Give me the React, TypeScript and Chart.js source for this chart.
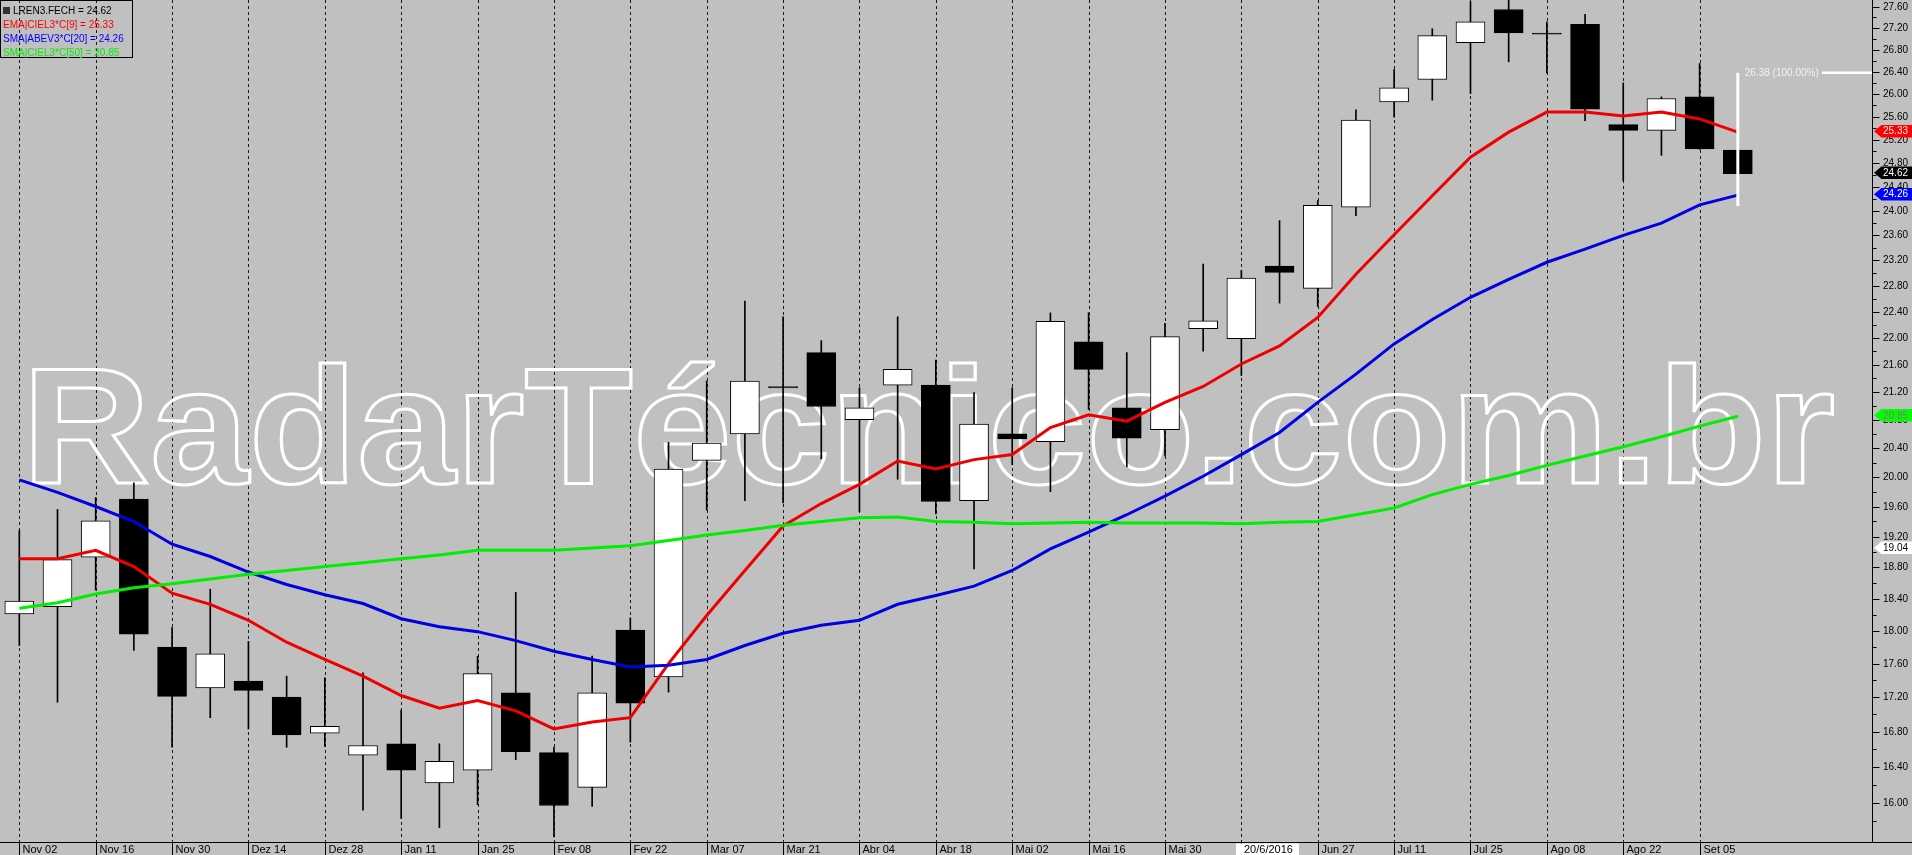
import { useEffect, useRef } from "react";
import { Chart, registerables } from "chart.js";

Chart.register(...registerables);

// Weekly candles LREN3 (Nov 02 2015 .. Set 12 2016)
const opens = [18.21, 18.30, 18.93, 19.70, 17.80, 17.31, 17.39, 17.20, 16.78, 16.53, 16.66, 16.22, 16.36, 17.25, 16.56, 16.17, 18.01, 17.44, 20.23, 20.60, 21.28, 21.78, 20.80, 21.30, 21.30, 19.68, 20.60, 20.49, 21.94, 20.97, 20.66, 22.14, 21.99, 23.11, 22.76, 24.06, 25.86, 26.26, 26.93, 27.55, 27.11, 27.27, 25.46, 25.36, 25.95, 25.02];
const highs = [19.28, 19.56, 19.72, 19.92, 18.04, 18.52, 17.87, 17.45, 17.43, 17.49, 17.05, 16.66, 17.69, 18.48, 16.62, 17.69, 18.16, 20.48, 21.36, 22.56, 22.32, 21.96, 21.26, 22.32, 21.67, 21.19, 21.26, 22.38, 22.38, 21.78, 22.22, 23.14, 23.04, 23.84, 24.17, 25.72, 26.44, 27.19, 27.70, 27.75, 27.32, 27.46, 26.20, 25.95, 26.55, 25.02];
const lows = [17.82, 17.14, 18.51, 17.76, 16.62, 16.96, 16.83, 16.62, 16.63, 15.92, 15.83, 15.73, 15.98, 16.48, 15.63, 15.96, 16.68, 17.26, 19.55, 19.68, 19.65, 20.25, 19.53, 19.97, 19.50, 18.78, 20.17, 19.80, 20.95, 20.14, 20.29, 21.80, 21.44, 22.53, 22.48, 23.92, 25.59, 25.89, 26.01, 26.58, 26.38, 25.53, 24.50, 24.93, 25.03, 24.62];
const closes = [18.37, 18.90, 19.41, 17.96, 17.21, 17.72, 17.28, 16.76, 16.86, 16.64, 16.36, 16.46, 17.48, 16.57, 15.97, 17.25, 17.13, 20.11, 20.47, 21.36, 21.26, 20.99, 20.97, 21.53, 19.67, 20.74, 20.53, 22.25, 21.53, 20.54, 22.02, 22.26, 22.92, 23.01, 24.09, 25.54, 26.11, 27.06, 27.32, 27.11, 27.09, 25.73, 25.36, 25.92, 25.04, 24.62];

// Indicator lines
const emaCiel9 = [18.91, 18.91, 19.02, 18.81, 18.47, 18.33, 18.13, 17.86, 17.65, 17.45, 17.22, 17.07, 17.16, 17.04, 16.83, 16.91, 16.96, 17.60, 18.19, 18.76, 19.34, 19.64, 19.90, 20.22, 20.11, 20.24, 20.31, 20.69, 20.87, 20.78, 21.05, 21.28, 21.61, 21.88, 22.31, 22.98, 23.61, 24.25, 24.90, 25.33, 25.68, 25.68, 25.61, 25.68, 25.56, 25.33];
const smaAbev20 = [19.96, 19.79, 19.60, 19.40, 19.10, 18.94, 18.74, 18.58, 18.45, 18.34, 18.15, 18.05, 17.99, 17.88, 17.75, 17.65, 17.56, 17.58, 17.65, 17.82, 17.97, 18.07, 18.13, 18.33, 18.44, 18.56, 18.76, 19.04, 19.26, 19.49, 19.74, 20.01, 20.31, 20.62, 21.05, 21.46, 21.91, 22.28, 22.62, 22.90, 23.17, 23.38, 23.60, 23.80, 24.10, 24.26];
const smaCiel50 = [18.28, 18.35, 18.46, 18.54, 18.59, 18.65, 18.71, 18.76, 18.81, 18.86, 18.91, 18.96, 19.02, 19.02, 19.02, 19.05, 19.08, 19.15, 19.22, 19.28, 19.35, 19.40, 19.45, 19.46, 19.40, 19.39, 19.37, 19.38, 19.39, 19.38, 19.38, 19.38, 19.37, 19.39, 19.40, 19.49, 19.58, 19.76, 19.90, 20.02, 20.16, 20.29, 20.42, 20.56, 20.71, 20.85];

// X axis labels (every two weeks)
const dateLabels = ["Nov 02", "Nov 16", "Nov 30", "Dez 14", "Dez 28", "Jan 11", "Jan 25", "Fev 08", "Fev 22", "Mar 07", "Mar 21", "Abr 04", "Abr 18", "Mai 02", "Mai 16", "Mai 30", "Jun 13", "Jun 27", "Jul 11", "Jul 25", "Ago 08", "Ago 22", "Set 05"];
const dateLabelIndex = [0, 2, 4, 6, 8, 10, 12, 14, 16, 18, 20, 22, 24, 26, 28, 30, 32, 34, 36, 38, 40, 42, 44];
const cursorDateLabel = "20/6/2016";
const cursorDateIndex = 32;

// Y axis ticks
const yMajorTicks = [16.0, 16.4, 16.8, 17.2, 17.6, 18.0, 18.4, 18.8, 19.2, 19.6, 20.0, 20.4, 20.8, 21.2, 21.6, 22.0, 22.4, 22.8, 23.2, 23.6, 24.0, 24.4, 24.8, 25.2, 25.6, 26.0, 26.4, 26.8, 27.2, 27.6];
const yMajorLabels = ["16.00", "16.40", "16.80", "17.20", "17.60", "18.00", "18.40", "18.80", "19.20", "19.60", "20.00", "20.40", "20.80", "21.20", "21.60", "22.00", "22.40", "22.80", "23.20", "23.60", "24.00", "24.40", "24.80", "25.20", "25.60", "26.00", "26.40", "26.80", "27.20", "27.60"];
const yMinorTicks = [15.8, 16.2, 16.6, 17.0, 17.4, 17.8, 18.2, 18.6, 19.0, 19.4, 19.8, 20.2, 20.6, 21.0, 21.4, 21.8, 22.2, 22.6, 23.0, 23.4, 23.8, 24.2, 24.6, 25.0, 25.4, 25.8, 26.2, 26.6, 27.0, 27.4];

// Price tags on the right axis
const tagValues = [25.33, 24.62, 24.26, 20.85, 19.04];
const tagTexts = ["25.33", "24.62", "24.26", "20.85", "19.04"];
const tagBg = ["#FF0000", "#000000", "#0000FF", "#00FF00", "#FFFFFF"];
const tagFg = ["#FFE8E8", "#FFFFFF", "#FFFFFF", "#7A7A7A", "#000000"];

// Legend
const legendTexts = ["LREN3.FECH = 24.62", "EMA|CIEL3*C[9] = 25.33", "SMA|ABEV3*C[20] = 24.26", "SMA|CIEL3*C[50] = 20.85"];
const legendColors = ["#000000", "#FF0000", "#0000FF", "#00EE00"];

// Measure annotation
const measureIndex = 45;
const measureTop = 26.38;
const measureBottom = 24.08;
const measureText = "26.38 (100.00%)";

const watermark = "RadarTécnico.com.br";

const FONT = '"Liberation Sans", Arial, sans-serif';

const chartPlugin = {
  id: "radarDecor",
  beforeDraw(chart: any) {
    const ctx = chart.ctx;
    ctx.save();
    ctx.fillStyle = "#C0C0C0";
    ctx.fillRect(0, 0, chart.width, chart.height);
    ctx.restore();
  },
  beforeDatasetsDraw(chart: any) {
    const { ctx, chartArea } = chart;
    const x = chart.scales.x;
    ctx.save();
    // dashed vertical grid
    ctx.strokeStyle = "#1a1a1a";
    ctx.lineWidth = 1;
    ctx.setLineDash([3, 3]);
    for (const i of dateLabelIndex) {
      const px = Math.round(x.getPixelForValue(i)) + 0.5;
      ctx.beginPath();
      ctx.moveTo(px, chartArea.top);
      ctx.lineTo(px, chartArea.bottom);
      ctx.stroke();
    }
    ctx.setLineDash([]);
    // watermark
    ctx.font = "bold 165px " + FONT;
    const w = ctx.measureText(watermark).width;
    ctx.translate(22, 483);
    ctx.scale(1813 / w, 1);
    ctx.lineWidth = 3;
    ctx.lineJoin = "miter";
    ctx.strokeStyle = "#FFFFFF";
    ctx.strokeText(watermark, 0, 0);
    ctx.restore();
  },
  afterDatasetsDraw(chart: any) {
    const { ctx } = chart;
    const x = chart.scales.x;
    const y = chart.scales.y;
    const W = chart.width;
    const H = chart.height;
    const axisX = 1872.5;
    const axisY = 842.5;
    ctx.save();

    // measure annotation
    const ax = x.getPixelForValue(measureIndex);
    const myTop = y.getPixelForValue(measureTop);
    const myBot = y.getPixelForValue(measureBottom);
    ctx.strokeStyle = "#FFFFFF";
    ctx.lineWidth = 3;
    ctx.beginPath();
    ctx.moveTo(ax, myTop);
    ctx.lineTo(ax, myBot);
    ctx.stroke();
    ctx.fillStyle = "#F2F2F2";
    ctx.font = "10px " + FONT;
    ctx.textBaseline = "middle";
    ctx.textAlign = "left";
    ctx.fillText(measureText, ax + 7, myTop);
    const tw = ctx.measureText(measureText).width;
    ctx.lineWidth = 2.5;
    ctx.beginPath();
    ctx.moveTo(ax + 7 + tw + 3, myTop);
    ctx.lineTo(1872, myTop);
    ctx.stroke();

    // axis lines
    ctx.strokeStyle = "#000000";
    ctx.lineWidth = 1;
    ctx.beginPath();
    ctx.moveTo(0, axisY);
    ctx.lineTo(W, axisY);
    ctx.stroke();
    ctx.beginPath();
    ctx.moveTo(axisX, 0);
    ctx.lineTo(axisX, axisY);
    ctx.stroke();

    // y ticks
    for (const v of yMinorTicks) {
      const py = Math.round(y.getPixelForValue(v)) + 0.5;
      if (py > axisY - 1) continue;
      ctx.beginPath();
      ctx.moveTo(axisX, py);
      ctx.lineTo(axisX + 4, py);
      ctx.stroke();
    }
    ctx.fillStyle = "#000000";
    ctx.font = "10px " + FONT;
    ctx.textBaseline = "middle";
    yMajorTicks.forEach((v, k) => {
      const py = Math.round(y.getPixelForValue(v)) + 0.5;
      ctx.beginPath();
      ctx.moveTo(axisX, py);
      ctx.lineTo(axisX + 7, py);
      ctx.stroke();
      ctx.fillText(yMajorLabels[k], 1883, py);
    });

    // x labels
    ctx.font = "11px " + FONT;
    dateLabelIndex.forEach((i, k) => {
      const px = Math.round(x.getPixelForValue(i)) + 0.5;
      ctx.beginPath();
      ctx.moveTo(px, axisY);
      ctx.lineTo(px, H);
      ctx.stroke();
      ctx.fillText(dateLabels[k], px + 3, 849.5);
    });
    // cursor date box
    const cx = Math.round(x.getPixelForValue(cursorDateIndex)) - 5;
    ctx.fillStyle = "#FFFFFF";
    ctx.fillRect(cx, axisY + 1, 63, H - axisY);
    ctx.fillStyle = "#000000";
    ctx.fillText(cursorDateLabel, cx + 8, 849.5);

    // price tags
    ctx.font = "10px " + FONT;
    tagValues.forEach((v, k) => {
      const py = y.getPixelForValue(v) - 1;
      const h = 12.5;
      ctx.fillStyle = tagBg[k];
      ctx.beginPath();
      ctx.moveTo(1874, py);
      ctx.lineTo(1881.5, py - h / 2);
      ctx.lineTo(W, py - h / 2);
      ctx.lineTo(W, py + h / 2);
      ctx.lineTo(1881.5, py + h / 2);
      ctx.closePath();
      ctx.fill();
      ctx.fillStyle = tagFg[k];
      ctx.fillText(tagTexts[k], 1883, py + 0.5);
    });

    // legend
    ctx.strokeStyle = "#000000";
    ctx.lineWidth = 1;
    ctx.strokeRect(0.5, 0.5, 132, 57);
    ctx.fillStyle = "#333333";
    ctx.fillRect(3, 7, 7, 7);
    ctx.font = "10px " + FONT;
    legendTexts.forEach((t, k) => {
      ctx.fillStyle = legendColors[k];
      ctx.fillText(t, k === 0 ? 13 : 3, 11 + k * 14);
    });

    ctx.restore();
  },
};

export default function App() {
  const canvasRef = useRef<HTMLCanvasElement | null>(null);

  useEffect(() => {
    const canvas = canvasRef.current;
    if (!canvas) return;
    const idx = opens.map((_, i) => i);
    const chart = new Chart(canvas, {
      type: "bar",
      data: {
        datasets: [
          {
            type: "line",
            label: "SMA|CIEL3*C[50]",
            data: idx.map((i) => ({ x: i, y: smaCiel50[i] })),
            borderColor: "#00EE00",
            borderWidth: 3,
            pointRadius: 0,
            tension: 0,
            order: 0,
          } as any,
          {
            type: "line",
            label: "SMA|ABEV3*C[20]",
            data: idx.map((i) => ({ x: i, y: smaAbev20[i] })),
            borderColor: "#0000E0",
            borderWidth: 3,
            pointRadius: 0,
            tension: 0,
            order: 0,
          } as any,
          {
            type: "line",
            label: "EMA|CIEL3*C[9]",
            data: idx.map((i) => ({ x: i, y: emaCiel9[i] })),
            borderColor: "#EE0000",
            borderWidth: 3,
            pointRadius: 0,
            tension: 0,
            order: 0,
          } as any,
          {
            type: "bar",
            label: "body",
            data: idx.map((i) => ({ x: i, y: [opens[i], closes[i]] })),
            backgroundColor: idx.map((i) => (closes[i] >= opens[i] ? "#FFFFFF" : "#000000")),
            borderColor: "#000000",
            borderWidth: 1,
            borderSkipped: false,
            barThickness: 29,
            grouped: false,
            order: 1,
          } as any,
          {
            type: "bar",
            label: "wick",
            data: idx.map((i) => ({ x: i, y: [lows[i], highs[i]] })),
            backgroundColor: "#000000",
            borderWidth: 0,
            barThickness: 1,
            grouped: false,
            order: 2,
          } as any,
        ],
      },
      options: {
        responsive: false,
        animation: false,
        devicePixelRatio: 1,
        events: [],
        layout: { padding: 0 },
        plugins: { legend: { display: false }, tooltip: { enabled: false } },
        scales: {
          x: {
            type: "linear",
            offset: false,
            min: -0.5055,
            max: 48.54,
            bounds: "data",
            grid: { display: false, offset: false },
            border: { display: false },
            ticks: { display: false },
            afterFit: (s: any) => {
              s.height = 12;
            },
          },
          y: {
            type: "logarithmic",
            position: "right",
            min: 15.565,
            max: 27.73,
            bounds: "data",
            grid: { display: false },
            border: { display: false },
            ticks: { display: false },
            afterFit: (s: any) => {
              s.width = 39;
            },
          },
        },
      } as any,
      plugins: [chartPlugin],
    });
    return () => chart.destroy();
  }, []);

  return (
    <div style={{ position: "fixed", left: 0, top: 0, width: 1912, height: 855 }}>
      <canvas ref={canvasRef} width={1912} height={855} style={{ display: "block" }} />
    </div>
  );
}
